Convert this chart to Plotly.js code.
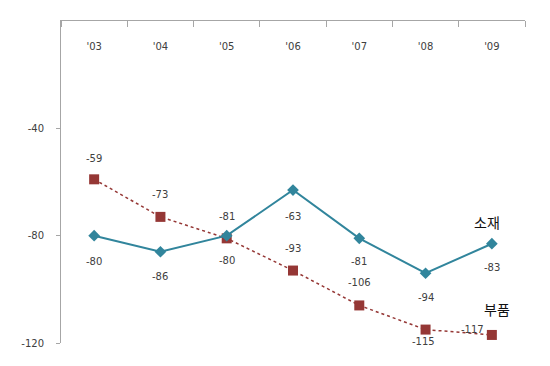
<!DOCTYPE html>
<html>
<head>
<meta charset="utf-8">
<script src="https://cdn.plot.ly/plotly-3.0.1.min.js"></script>
<style>html,body{margin:0;padding:0;background:#fff;}#chart{width:550px;height:366px;}</style>
</head>
<body>
<div id="chart"></div>
<script>
const years = ["'03", "'04", "'05", "'06", "'07", "'08", "'09"];
const sojae = [-80, -86, -80, -63, -81, -94, -83];   // 소재
const bupum = [-59, -73, -81, -93, -106, -115, -117]; // 부품
const yTickVals = [0, -40, -80, -120];
const yTickText = ["-", "-40", "-80", "-120"];

// label placement (pixels)
const sojaeShift = [[0,-26],[0,-25],[0,-25],[0,-26],[0,-23],[0,-24],[0,-24]];
const bupumShift = [[0,21],[0,22],[0,22],[0,22],[0,23],[-2,-12],[-19,5]];

const teal = '#31859C';
const red = '#953735';
const axisCol = '#A6A6A6';
const labFont = {family: 'DejaVu Sans, sans-serif', size: 10, color: '#404040'};

const xIdx = years.map((_, i) => i);
const boundaries = years.concat(['']).map((_, i) => i - 0.5);

const annotations = [];
years.forEach((y, i) => {
  annotations.push({x: xIdx[i], y: sojae[i], text: String(sojae[i]), showarrow: false,
    xshift: sojaeShift[i][0], yshift: sojaeShift[i][1], font: labFont});
  annotations.push({x: xIdx[i], y: bupum[i], text: String(bupum[i]), showarrow: false,
    xshift: bupumShift[i][0], yshift: bupumShift[i][1], font: labFont});
});
annotations.push({x: xIdx[6], y: sojae[6], text: '소재', showarrow: false,
  xshift: -5, yshift: 22, font: {family: 'Noto Sans CJK KR', size: 14, color: '#111'}});
annotations.push({x: xIdx[6], y: bupum[6], text: '부품', showarrow: false,
  xshift: 5, yshift: 26, font: {family: 'Noto Sans CJK KR', size: 14, color: '#111'}});

const traces = [
  {x: xIdx, y: bupum, type: 'scatter', mode: 'lines+markers', name: '부품',
   line: {color: red, width: 1.5, dash: 'dot'},
   marker: {symbol: 'square', size: 10, color: red}},
  {x: xIdx, y: sojae, type: 'scatter', mode: 'lines+markers', name: '소재',
   line: {color: teal, width: 2},
   marker: {symbol: 'diamond', size: 9, color: teal}}
];

const layout = {
  width: 550, height: 366,
  margin: {l: 61, r: 25, t: 21, b: 23},
  showlegend: false,
  font: labFont,
  xaxis: {
    range: [-0.5, 6.5], side: 'top', showline: true, linecolor: axisCol, linewidth: 1,
    tickmode: 'array', tickvals: xIdx, ticktext: years,
    ticks: '', ticklabelposition: 'inside', ticklabelstandoff: 21,
    minor: {tickmode: 'array', tickvals: boundaries, ticks: 'inside', ticklen: 6, tickcolor: axisCol, showgrid: false},
    showgrid: false, zeroline: false, tickfont: labFont
  },
  yaxis: {
    range: [-120, 0], showline: true, linecolor: axisCol, linewidth: 1,
    ticks: 'outside', ticklen: 4, tickcolor: axisCol,
    tickvals: yTickVals, ticktext: yTickText, ticklabelstandoff: 10,
    showgrid: false, zeroline: false, tickfont: labFont
  },
  annotations: annotations
};

Plotly.newPlot('chart', traces, layout, {displayModeBar: false, staticPlot: true});
</script>
</body>
</html>
